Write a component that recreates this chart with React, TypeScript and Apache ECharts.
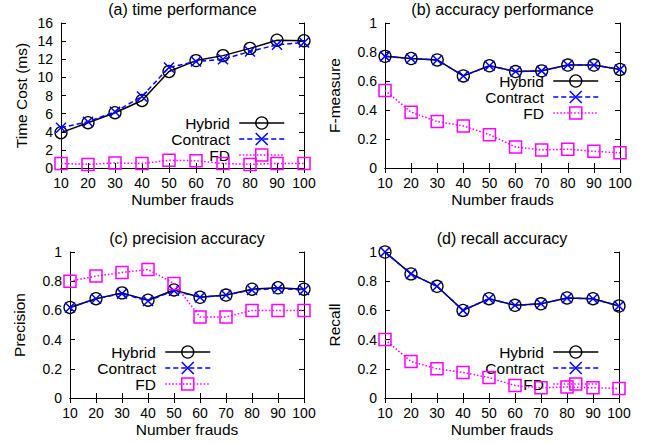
import React, { useEffect, useRef } from "react";
import * as echarts from "echarts";

const xValues = [10, 20, 30, 40, 50, 60, 70, 80, 90, 100];

const timeHybrid = [3.9, 5.0, 6.1, 7.45, 10.65, 11.85, 12.4, 13.2, 14.1, 14.05];
const timeContract = [4.45, 5.1, 6.2, 7.9, 11.1, 11.75, 12.0, 12.85, 13.6, 13.85];
const timeFD = [0.5, 0.4, 0.55, 0.5, 0.85, 0.8, 0.5, 0.4, 0.5, 0.5];

const fHybrid = [0.77, 0.755, 0.745, 0.635, 0.705, 0.665, 0.67, 0.71, 0.71, 0.68];
const fContract = [0.77, 0.755, 0.745, 0.635, 0.705, 0.665, 0.67, 0.71, 0.71, 0.68];
const fFD = [0.535, 0.385, 0.32, 0.29, 0.23, 0.145, 0.125, 0.13, 0.115, 0.105];

const pHybrid = [0.62, 0.68, 0.72, 0.67, 0.74, 0.69, 0.705, 0.745, 0.755, 0.745];
const pContract = [0.62, 0.68, 0.715, 0.665, 0.735, 0.69, 0.705, 0.74, 0.75, 0.74];
const pFD = [0.8, 0.835, 0.86, 0.88, 0.785, 0.555, 0.555, 0.6, 0.6, 0.6];

const rHybrid = [1.0, 0.85, 0.765, 0.6, 0.68, 0.635, 0.645, 0.685, 0.68, 0.63];
const rContract = [1.0, 0.85, 0.765, 0.6, 0.68, 0.635, 0.645, 0.685, 0.68, 0.63];
const rFD = [0.4, 0.25, 0.2, 0.175, 0.14, 0.085, 0.07, 0.075, 0.07, 0.065];

const titles = ["(a) time performance", "(b) accuracy performance", "(c) precision accuracy", "(d) recall accuracy"];
const yNames = ["Time Cost (ms)", "F-measure", "Precision", "Recall"];
const xName = "Number frauds";
const yMaxes = [16, 1, 1, 1];
const yIntervals = [2, 0.2, 0.2, 0.2];

const layouts = [
  { left: 61, top: 23, width: 243, height: 145, nameGap: 32, legendRight: 361, legendTop: 115, titleX: 182.5, titleTop: 1 },
  { left: 385, top: 23, width: 235, height: 145, nameGap: 43, legendRight: 47, legendTop: 73, titleX: 502.5, titleTop: 1 },
  { left: 70, top: 252, width: 234, height: 146, nameGap: 43, legendRight: 435, legendTop: 344, titleX: 187, titleTop: 230 },
  { left: 385, top: 252, width: 234, height: 146, nameGap: 43, legendRight: 47, legendTop: 344, titleX: 502, titleTop: 230 },
];

const FONT = "'Liberation Sans', Arial, Helvetica, sans-serif";
const BLACK = "#000000";
const BLUE = "#0000ff";
const MAGENTA = "#ff00ff";
const XPATH = "path://M0,0L10,10M10,0L0,10";

const pairs = (ys: number[]) => xValues.map((x, i) => [x, ys[i]]);

export default function App() {
  const ref = useRef<HTMLDivElement>(null);
  useEffect(() => {
    if (!ref.current) return;
    const chart = echarts.init(ref.current, undefined, { renderer: "svg" });
    const data = [
      [timeHybrid, timeContract, timeFD],
      [fHybrid, fContract, fFD],
      [pHybrid, pContract, pFD],
      [rHybrid, rContract, rFD],
    ];
    const grid: any[] = [];
    const xAxis: any[] = [];
    const yAxis: any[] = [];
    const series: any[] = [];
    const legend: any[] = [];
    const title: any[] = [];
    const tick = { show: true, inside: true, length: 5, lineStyle: { color: BLACK, width: 1 } };
    const line = { show: true, lineStyle: { color: BLACK, width: 1 } };
    layouts.forEach((L, p) => {
      grid.push({ left: L.left, top: L.top, width: L.width, height: L.height, containLabel: false });
      xAxis.push({
        type: "value", gridIndex: p, min: 10, max: 100, interval: 10, position: "bottom",
        axisLine: line, axisTick: tick, splitLine: { show: false },
        axisLabel: { color: BLACK, fontSize: 14, fontFamily: FONT, margin: 8 },
        name: xName, nameLocation: "middle", nameGap: 23,
        nameTextStyle: { color: BLACK, fontSize: 15.5, fontFamily: FONT },
      });
      xAxis.push({
        type: "value", gridIndex: p, min: 10, max: 100, interval: 10, position: "top",
        axisLine: line, axisTick: tick, splitLine: { show: false }, axisLabel: { show: false },
      });
      yAxis.push({
        type: "value", gridIndex: p, min: 0, max: yMaxes[p], interval: yIntervals[p], position: "left",
        axisLine: line, axisTick: tick, splitLine: { show: false },
        axisLabel: { color: BLACK, fontSize: 14, fontFamily: FONT, margin: 8 },
        name: yNames[p], nameLocation: "middle", nameGap: L.nameGap, nameRotate: 90,
        nameTextStyle: { color: BLACK, fontSize: 15.5, fontFamily: FONT },
      });
      yAxis.push({
        type: "value", gridIndex: p, min: 0, max: yMaxes[p], interval: yIntervals[p], position: "right",
        axisLine: line, axisTick: tick, splitLine: { show: false }, axisLabel: { show: false },
      });
      const [h, c, f] = data[p];
      series.push({
        type: "line", name: "Hybrid", xAxisIndex: 2 * p, yAxisIndex: 2 * p, data: pairs(h),
        symbol: "circle", symbolSize: 12,
        lineStyle: { color: BLACK, width: 1.5, type: "solid" },
        itemStyle: { color: "rgba(0,0,0,0)", borderColor: BLACK, borderWidth: 1.3 },
        z: 2,
      });
      series.push({
        type: "line", name: "Contract", xAxisIndex: 2 * p, yAxisIndex: 2 * p, data: pairs(c),
        symbol: XPATH, symbolSize: 10,
        lineStyle: { color: BLUE, width: 1.5, type: [5, 3] },
        itemStyle: { color: BLUE, borderColor: BLUE, borderWidth: 1.5 },
        z: 3,
      });
      series.push({
        type: "line", name: "FD", xAxisIndex: 2 * p, yAxisIndex: 2 * p, data: pairs(f),
        symbol: "rect", symbolSize: 12,
        lineStyle: { color: MAGENTA, width: 1.5, type: [1.5, 2] },
        itemStyle: { color: "rgba(0,0,0,0)", borderColor: MAGENTA, borderWidth: 1.5 },
        z: 4,
      });
      legend.push({
        orient: "vertical", align: "right", right: L.legendRight, top: L.legendTop, padding: 0,
        itemWidth: 45, itemHeight: 15, itemGap: 0,
        formatter: (name: string) => name + " ",
        textStyle: { color: BLACK, fontSize: 15.5, fontFamily: FONT, lineHeight: 15 },
        data: [
          { name: "Hybrid", itemStyle: { color: "rgba(0,0,0,0)", borderColor: BLACK, borderWidth: 1.3 }, lineStyle: { color: BLACK, width: 1.5, type: "solid" } },
          { name: "Contract", itemStyle: { color: BLUE, borderColor: BLUE, borderWidth: 1.5 }, lineStyle: { color: BLUE, width: 1.5, type: [5, 3] } },
          { name: "FD", itemStyle: { color: "rgba(0,0,0,0)", borderColor: MAGENTA, borderWidth: 1.5 }, lineStyle: { color: MAGENTA, width: 1.5, type: [1.5, 2] } },
        ],
        selectedMode: false,
      });
      title.push({
        text: titles[p], left: L.titleX, top: L.titleTop, textAlign: "center", padding: 0,
        textStyle: { color: BLACK, fontSize: 16, fontWeight: "normal", fontFamily: FONT },
      });
    });
    chart.setOption({
      animation: false,
      backgroundColor: "#ffffff",
      title, grid, xAxis, yAxis, series, legend,
    });
    return () => chart.dispose();
  }, []);
  return <div ref={ref} style={{ position: "absolute", left: 0, top: 0, width: 646, height: 443 }} />;
}
